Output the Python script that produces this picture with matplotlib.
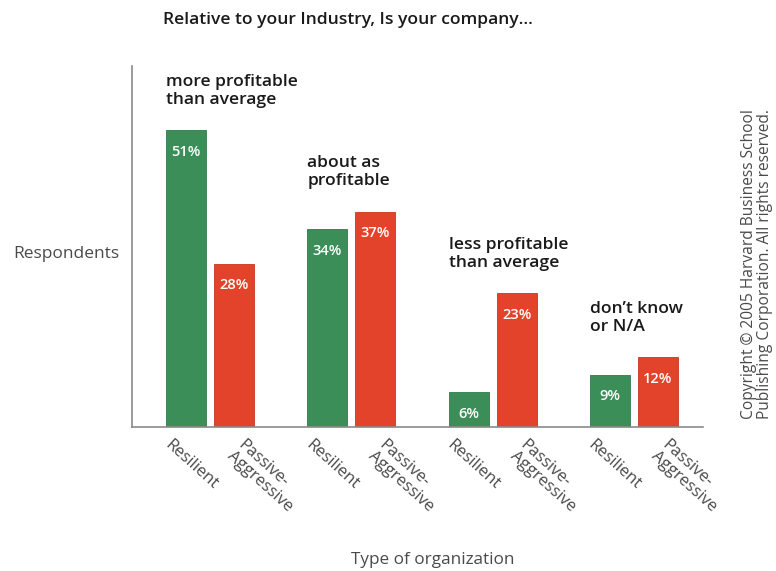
import matplotlib
matplotlib.use("Agg")
import matplotlib.pyplot as plt
import numpy as np

plt.rcParams['font.family'] = ['Open Sans', 'DejaVu Sans']

groups = ["more profitable\nthan average", "about as\nprofitable",
          "less profitable\nthan average", "don\u2019t know\nor N/A"]
series_names = ["Resilient", "Passive-\nAggressive"]
resilient = [51, 34, 6, 9]
passive_aggressive = [28, 37, 23, 12]

green = "#3b8e57"
red = "#e2432a"

fig = plt.figure(figsize=(7.76, 5.71), dpi=100)
ax = fig.add_axes([132/776, 1-427/571, (703-132)/776, (427-66)/571])

x = np.arange(len(groups))
w = 0.284
off = 0.17
b1 = ax.bar(x - off, resilient, w, color=green, edgecolor="#2f7a48", linewidth=0.6)
b2 = ax.bar(x + off, passive_aggressive, w, color=red, edgecolor="#c9361f", linewidth=0.6)

for bars, vals in ((b1, resilient), (b2, passive_aggressive)):
    for r, v in zip(bars, vals):
        ax.annotate(f"{v}%", (r.get_x() + r.get_width()/2, v), xytext=(0, -15.5),
                    textcoords="offset points", ha="center", va="center",
                    color="white", fontsize=10.5, fontweight="semibold")

for i, g in enumerate(groups):
    top = max(resilient[i], passive_aggressive[i])
    ax.text(i - off - w/2, top + 3.8, g, ha="left", va="bottom",
            fontsize=12.6, fontweight="semibold", color="#1a1a1a", linespacing=1.2)

ax.set_xlim(-0.553, 3.49)
ax.set_ylim(0, 62)
ax.set_xticks([])
ax.set_yticks([])
for s in ("top", "right"):
    ax.spines[s].set_visible(False)
for s in ("left", "bottom"):
    ax.spines[s].set_color("#8a8a8a")
    ax.spines[s].set_linewidth(1.2)

for i in range(len(groups)):
    for j, name in enumerate(series_names):
        xc = i - off if j == 0 else i + off
        ax.annotate(name, (xc, 0), xytext=(-10 if j == 0 else 8, -7),
                    textcoords="offset points", rotation=-42,
                    rotation_mode="anchor", ha="left", va="top",
                    fontsize=12, color="#4a4a4a", linespacing=0.95,
                    annotation_clip=False)

fig.text(163/776, 1-20/571, "Relative to your Industry, Is your company\u2026",
         ha="left", va="center", fontsize=12.6, fontweight="semibold", color="#1a1a1a")
fig.text(66/776, 1-254/571, "Respondents", ha="center", va="center",
         fontsize=12.5, color="#4a4a4a")
fig.text(433/776, 1-560/571, "Type of organization", ha="center", va="center",
         fontsize=12.3, color="#4a4a4a")
fig.text(757/776, 1-264/571,
         "Copyright \u00a9 2005 Harvard Business School\nPublishing Corporation. All rights reserved.",
         ha="center", va="center", rotation=90, fontsize=11.2, color="#4a4a4a",
         linespacing=1.0)

fig.savefig("out.png", dpi=100)
